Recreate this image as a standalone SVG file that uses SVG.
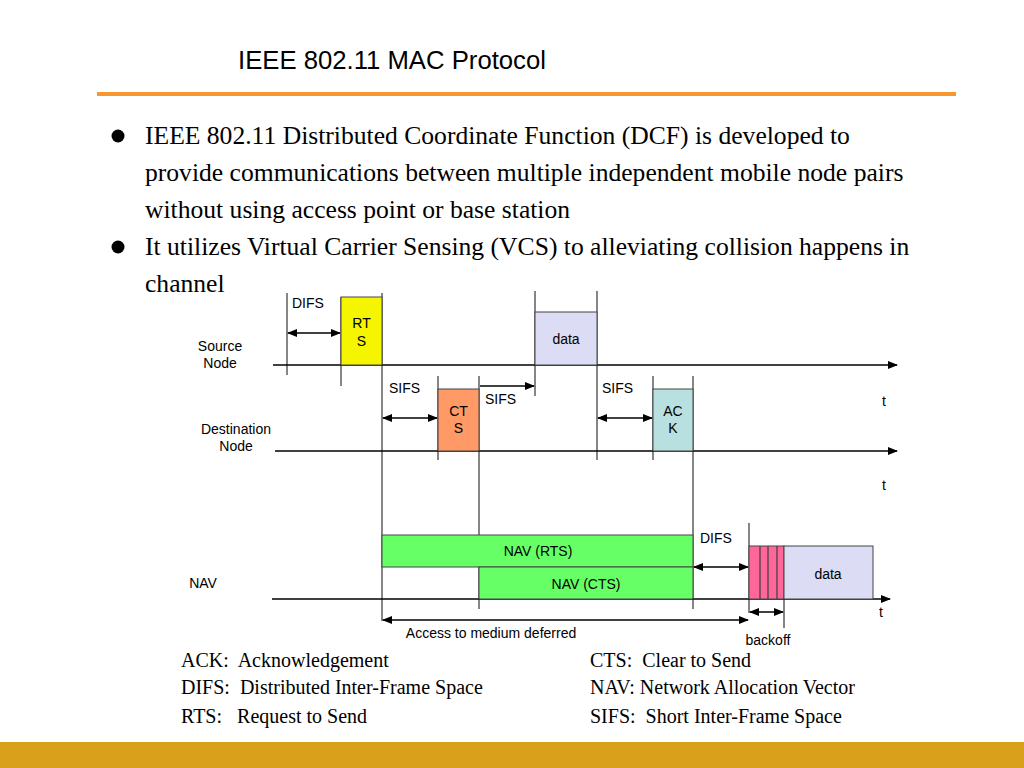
<svg xmlns="http://www.w3.org/2000/svg" width="1024" height="768" viewBox="0 0 1024 768">
<defs>
<marker id="ah" markerUnits="userSpaceOnUse" markerWidth="10" markerHeight="8" refX="9" refY="4" orient="auto-start-reverse">
<path d="M0,0 L10,4 L0,8 Z" fill="#000"/>
</marker>
</defs>
<style>
.bt{font-family:"Liberation Serif","Times New Roman",serif;font-size:25.6px;fill:#000}
.lg{font-family:"Liberation Serif","Times New Roman",serif;font-size:20px;fill:#000}
.lb{font-family:"Liberation Sans",Arial,sans-serif;font-size:14px;fill:#000}
.c{text-anchor:middle}
.ax{stroke:#000;stroke-width:1.5;fill:none}
.vl{stroke:#444;stroke-width:1.3;fill:none}
.dim{stroke:#000;stroke-width:1.3;fill:none;marker-start:url(#ah);marker-end:url(#ah)}
.box{stroke:#444;stroke-width:1}
</style>
<rect width="1024" height="768" fill="#fff"/>
<text x="238" y="69" font-family="Liberation Sans, Arial, sans-serif" font-size="25.7" fill="#000">IEEE 802.11 MAC Protocol</text>
<rect x="97" y="92" width="859" height="4" fill="#F7972F"/>
<rect x="0" y="742" width="1024" height="26" fill="#D9A11B"/>

<circle cx="118" cy="136" r="6.5" fill="#000"/>
<circle cx="118" cy="247" r="6.5" fill="#000"/>
<text class="bt" x="145" y="144">IEEE 802.11 Distributed Coordinate Function (DCF) is developed to</text>
<text class="bt" x="145" y="181">provide communications between multiple independent mobile node pairs</text>
<text class="bt" x="145" y="218">without using access point or base station</text>
<text class="bt" x="145" y="255">It utilizes Virtual Carrier Sensing (VCS) to alleviating collision happens in</text>
<text class="bt" x="145" y="292">channel</text>

<g id="connectors">
<line class="vl" x1="287" y1="293" x2="287" y2="375"/>
<line class="vl" x1="341" y1="297" x2="341" y2="386"/>
<line class="vl" x1="382" y1="293" x2="382" y2="621"/>
<line class="vl" x1="535" y1="291" x2="535" y2="396"/>
<line class="vl" x1="597" y1="291" x2="597" y2="460"/>
<line class="vl" x1="438" y1="376" x2="438" y2="460"/>
<line class="vl" x1="479" y1="376" x2="479" y2="609"/>
<line class="vl" x1="653" y1="376" x2="653" y2="460"/>
<line class="vl" x1="693" y1="376" x2="693" y2="609"/>
<line class="vl" x1="749" y1="523" x2="749" y2="613"/>
<line class="vl" x1="784" y1="546" x2="784" y2="628"/>
<line class="ax" x1="273" y1="365" x2="897" y2="365" marker-end="url(#ah)"/>
<line class="ax" x1="275" y1="451" x2="897" y2="451" marker-end="url(#ah)"/>
<line class="ax" x1="272" y1="599" x2="890" y2="599" marker-end="url(#ah)"/>
<line class="dim" x1="288" y1="333" x2="340" y2="333"/>
<line class="dim" x1="383" y1="418" x2="437" y2="418"/>
<line class="ax" x1="480" y1="386" x2="534" y2="386" marker-end="url(#ah)"/>
<line class="dim" x1="598" y1="418" x2="652" y2="418"/>
<line class="dim" x1="694" y1="567" x2="748" y2="567"/>
<line class="dim" x1="383" y1="620" x2="748" y2="620"/>
<line class="dim" x1="750" y1="612" x2="783" y2="612"/>
</g>

<g id="source-label"><text class="lb c" x="220" y="351">Source</text><text class="lb c" x="220" y="368">Node</text></g>
<g id="dest-label"><text class="lb c" x="236" y="434">Destination</text><text class="lb c" x="236" y="451">Node</text></g>
<g id="nav-label"><text class="lb c" x="203" y="588">NAV</text></g>

<g id="difs1"><text class="lb" x="292" y="308">DIFS</text></g>
<g id="rts"><rect class="box" x="341" y="297" width="41" height="68" fill="#F5F500"/><text class="lb c" x="361.5" y="328">RT</text><text class="lb c" x="361.5" y="346">S</text></g>
<g id="data1"><rect class="box" x="535" y="312" width="62" height="53" fill="#DCDCF5"/><text class="lb c" x="566" y="344">data</text></g>
<g id="sifs1"><text class="lb" x="389" y="393">SIFS</text></g>
<g id="sifs2"><text class="lb" x="485" y="404">SIFS</text></g>
<g id="sifs3"><text class="lb" x="602" y="393">SIFS</text></g>
<g id="cts"><rect class="box" x="438" y="389" width="41" height="62" fill="#FF9966"/><text class="lb c" x="458.5" y="416">CT</text><text class="lb c" x="458.5" y="433">S</text></g>
<g id="ack"><rect class="box" x="653" y="389" width="40" height="62" fill="#B8E0E0"/><text class="lb c" x="673" y="416">AC</text><text class="lb c" x="673" y="433">K</text></g>
<g id="t-labels"><text class="lb" x="882" y="406">t</text><text class="lb" x="882" y="490">t</text><text class="lb" x="879" y="617">t</text></g>

<g id="nav-rts"><rect class="box" x="382" y="535" width="311" height="32" fill="#66FF66"/><text class="lb c" x="538" y="556">NAV (RTS)</text></g>
<g id="nav-cts"><rect class="box" x="479" y="567" width="214" height="32" fill="#66FF66"/><text class="lb c" x="586" y="589">NAV (CTS)</text></g>
<g id="difs2"><text class="lb" x="700" y="543">DIFS</text></g>
<g id="backoff"><rect class="box" x="749" y="546" width="35" height="53" fill="#FF6699"/>
<line class="vl" x1="760" y1="546" x2="760" y2="599"/><line class="vl" x1="768" y1="546" x2="768" y2="599"/><line class="vl" x1="777" y1="546" x2="777" y2="599"/>
<text class="lb c" x="768" y="645">backoff</text></g>
<g id="data2"><rect class="box" x="784" y="546" width="89" height="53" fill="#DCDCF5"/><text class="lb c" x="828" y="579">data</text></g>
<g id="access"><text class="lb c" x="491" y="638">Access to medium deferred</text></g>

<g id="legend">
<text class="lg" x="181" y="667" xml:space="preserve">ACK:  Acknowledgement</text>
<text class="lg" x="181" y="694" xml:space="preserve">DIFS:  Distributed Inter-Frame Space</text>
<text class="lg" x="181" y="723" xml:space="preserve">RTS:   Request to Send</text>
<text class="lg" x="590" y="667" xml:space="preserve">CTS:  Clear to Send</text>
<text class="lg" x="590" y="694" xml:space="preserve">NAV: Network Allocation Vector</text>
<text class="lg" x="590" y="723" xml:space="preserve">SIFS:  Short Inter-Frame Space</text>
</g>
</svg>
